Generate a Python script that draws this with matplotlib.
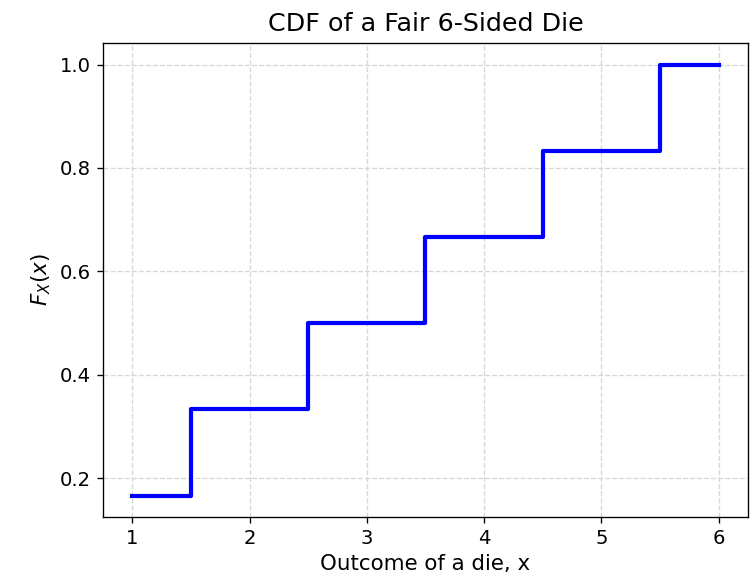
import matplotlib
matplotlib.use("Agg")
import matplotlib.pyplot as plt
import numpy as np

# outcomes of a fair die and the cumulative probability at each one
outcomes = [1, 2, 3, 4, 5, 6]
cdf = [1/6, 2/6, 3/6, 4/6, 5/6, 6/6]

fig = plt.figure(figsize=(751/120, 581/120), dpi=120)
ax = fig.add_axes([0.137, 0.110, 0.859, 0.816])

ax.step(outcomes, cdf, where='mid', color='blue', linewidth=2.5)

ax.set_title("CDF of a Fair 6-Sided Die", fontsize=15.2, pad=7)
ax.set_xlabel("Outcome of a die, x", fontsize=12.8)
ax.set_ylabel(r"$F_X(x)$", fontsize=12.8)
ax.set_xticks(outcomes)
ax.tick_params(labelsize=11.8)
ax.grid(True, linestyle='--', color='lightgray', alpha=0.9)

fig.savefig("out.png", dpi=120)
